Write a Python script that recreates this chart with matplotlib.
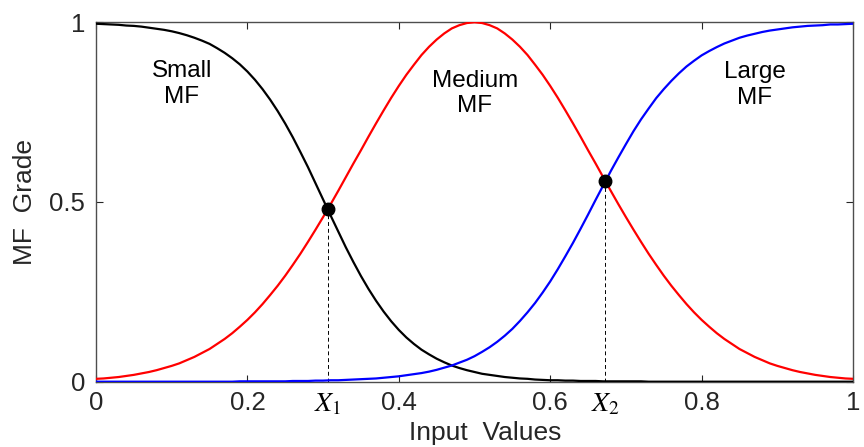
import matplotlib
matplotlib.use('Agg')
import matplotlib.pyplot as plt
import numpy as np

# membership values, x from 0 to 1 in steps of 0.01
x_vals = np.round(np.linspace(0, 1, 101), 2)
small_mf = [0.996, 0.995, 0.994, 0.993, 0.991, 0.990, 0.988, 0.985, 0.982, 0.979,
            0.975, 0.970, 0.964, 0.957, 0.949, 0.940, 0.928, 0.915, 0.900, 0.883,
            0.863, 0.840, 0.814, 0.785, 0.753, 0.718, 0.680, 0.639, 0.597, 0.552,
            0.507, 0.462, 0.418, 0.374, 0.333, 0.294, 0.258, 0.225, 0.195, 0.168,
            0.144, 0.123, 0.105, 0.089, 0.076, 0.064, 0.054, 0.045, 0.038, 0.032,
            0.027, 0.022, 0.019, 0.016, 0.013, 0.011, 0.009, 0.008, 0.006, 0.005,
            0.004, 0.004, 0.003, 0.003, 0.002, 0.002, 0.002, 0.001, 0.001, 0.001,
            0.001, 0.001, 0.001, 0.000, 0.000, 0.000, 0.000, 0.000, 0.000, 0.000,
            0.000, 0.000, 0.000, 0.000, 0.000, 0.000, 0.000, 0.000, 0.000, 0.000,
            0.000, 0.000, 0.000, 0.000, 0.000, 0.000, 0.000, 0.000, 0.000, 0.000,
            0.000]
medium_mf = [0.008, 0.009, 0.011, 0.013, 0.016, 0.019, 0.023, 0.027, 0.032, 0.038,
             0.044, 0.051, 0.060, 0.069, 0.080, 0.091, 0.105, 0.119, 0.135, 0.153,
             0.172, 0.193, 0.216, 0.241, 0.267, 0.295, 0.325, 0.356, 0.389, 0.423,
             0.458, 0.494, 0.531, 0.569, 0.607, 0.644, 0.682, 0.719, 0.755, 0.790,
             0.823, 0.854, 0.882, 0.909, 0.932, 0.952, 0.969, 0.983, 0.992, 0.998,
             1.000,
             0.998, 0.992, 0.983, 0.969, 0.952, 0.932, 0.909, 0.882, 0.854, 0.823,
             0.790, 0.755, 0.719, 0.682, 0.644, 0.607, 0.569, 0.531, 0.494, 0.458,
             0.423, 0.389, 0.356, 0.325, 0.295, 0.267, 0.241, 0.216, 0.193, 0.172,
             0.153, 0.135, 0.119, 0.105, 0.091, 0.080, 0.069, 0.060, 0.051, 0.044,
             0.038, 0.032, 0.027, 0.023, 0.019, 0.016, 0.013, 0.011, 0.009, 0.008]
large_mf = [0.000, 0.000, 0.000, 0.000, 0.000, 0.000, 0.000, 0.000, 0.000, 0.000,
            0.000, 0.000, 0.000, 0.000, 0.000, 0.000, 0.000, 0.000, 0.000, 0.001,
            0.001, 0.001, 0.001, 0.001, 0.001, 0.001, 0.002, 0.002, 0.002, 0.003,
            0.003, 0.004, 0.004, 0.005, 0.006, 0.007, 0.008, 0.009, 0.011, 0.013,
            0.015, 0.018, 0.021, 0.024, 0.028, 0.033, 0.039, 0.045, 0.053, 0.061,
            0.071, 0.083, 0.096, 0.111, 0.128, 0.147, 0.169, 0.193, 0.219, 0.248,
            0.279, 0.313, 0.349, 0.386, 0.425, 0.465, 0.506, 0.546, 0.586, 0.624,
            0.661, 0.697, 0.730, 0.760, 0.789, 0.814, 0.837, 0.858, 0.877, 0.893,
            0.908, 0.920, 0.931, 0.941, 0.949, 0.957, 0.963, 0.968, 0.973, 0.977,
            0.980, 0.983, 0.986, 0.988, 0.990, 0.991, 0.992, 0.994, 0.994, 0.995,
            0.996]

# crossing points of the curves
cross_x = [0.306, 0.673]
cross_y = [0.480, 0.558]
cross_names = ['$X_1$', '$X_2$']

mf_names = ['Small\nMF', 'Medium\nMF', 'Large\nMF']

x_ticks = [0, 0.2, 0.4, 0.6, 0.8, 1]
x_ticklabels = ['0', '0.2', '0.4', '0.6', '0.8', '1']
y_ticks = [0, 0.5, 1]
y_ticklabels = ['0', '0.5', '1']

plt.rcParams['font.family'] = ['Liberation Sans', 'DejaVu Sans']
plt.rcParams['mathtext.fontset'] = 'stix'

fig = plt.figure(figsize=(8.64, 4.47), dpi=100)
ax = fig.add_axes([0.1111, 0.1461, 0.8762, 0.804])

ax.plot(x_vals, small_mf, color='black', lw=1.6, zorder=3)
ax.plot(x_vals, medium_mf, color='red', lw=1.6, zorder=3)
ax.plot(x_vals, large_mf, color='blue', lw=1.6, zorder=3)

for cx, cy in zip(cross_x, cross_y):
    ax.plot([cx, cx], [0, cy], color='black', lw=0.7, ls=(0, (4, 3)), zorder=2)
ax.plot(cross_x, cross_y, 'o', color='black', ms=9, zorder=4)

# label positions (axes fraction)
name_pos = [(0.1136, 0.828), (0.5007, 0.802), (0.8705, 0.826)]
for nm, (px, py) in zip(mf_names, name_pos):
    ax.text(px, py, nm, ha='center', va='center', fontsize=17.5, linespacing=1.2)

for cx, nm in zip(cross_x, cross_names):
    ax.text(cx, -0.026, nm, ha='center', va='top', fontsize=20)

ax.set_xlim(0, 1)
ax.set_ylim(0, 1)
ax.set_xticks(x_ticks)
ax.set_xticklabels(x_ticklabels)
ax.set_yticks(y_ticks)
ax.set_yticklabels(y_ticklabels)
ax.tick_params(direction='in', length=5, width=0.8, colors='0.15', labelsize=18.5,
               top=True, right=True)
ax.tick_params(axis='x', pad=7)
ax.tick_params(axis='y', pad=8)
for sp in ax.spines.values():
    sp.set_color('0.3')
    sp.set_linewidth(1.0)

ax.set_xlabel('Input  Values', fontsize=19, color='0.15')
ax.xaxis.set_label_coords(0.514, -0.108)
ax.set_ylabel('MF  Grade', fontsize=19, color='0.15')
ax.yaxis.set_label_coords(-0.078, 0.5)

fig.savefig('out.png', dpi=100)
